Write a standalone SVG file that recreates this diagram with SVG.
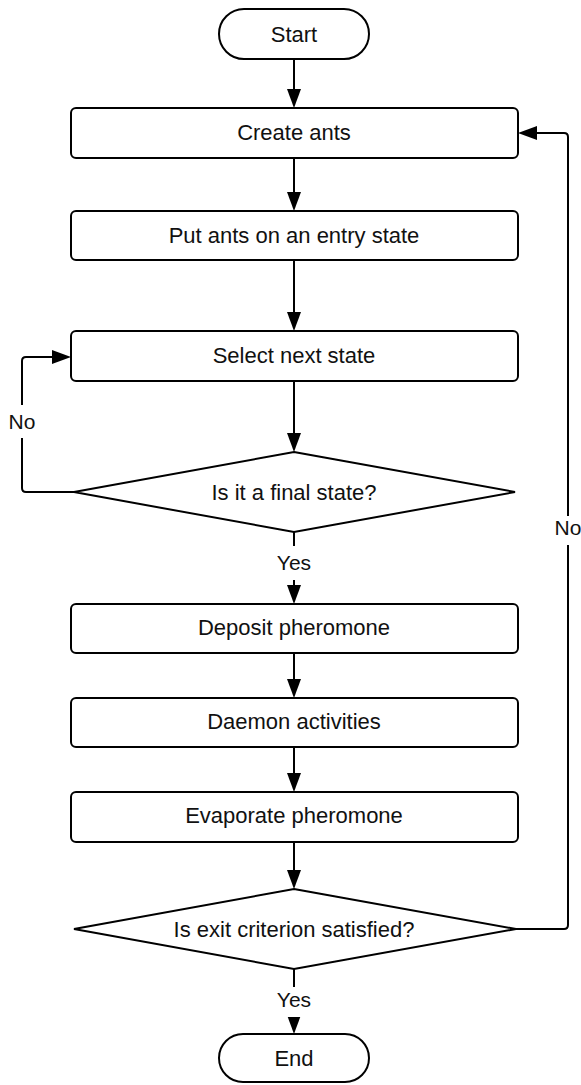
<svg xmlns="http://www.w3.org/2000/svg" width="581" height="1085" viewBox="0 0 581 1085">
<style>
.n{fill:#fff;stroke:#000;stroke-width:2}
.t{font-family:"Liberation Sans",Arial,sans-serif;font-size:22px;fill:#111;text-anchor:middle}
.l{font-family:"Liberation Sans",Arial,sans-serif;font-size:21px;fill:#111;text-anchor:middle}
.c{fill:none;stroke:#000;stroke-width:2;stroke-linejoin:round}
</style>
<defs>
<marker id="ah" markerUnits="userSpaceOnUse" markerWidth="22" markerHeight="16" refX="15" refY="7" orient="auto">
<path d="M0,0 L19,7 L0,14 z" fill="#000"/>
</marker>
</defs>
<rect width="581" height="1085" fill="#fff"/>
<g id="connectors">
<path class="c" d="M294,59 V104" marker-end="url(#ah)"/>
<path class="c" d="M294,158 V207" marker-end="url(#ah)"/>
<path class="c" d="M294,260 V327" marker-end="url(#ah)"/>
<path class="c" d="M294,381 V448" marker-end="url(#ah)"/>
<path class="c" d="M74,492 H26 Q22,492 22,488 V361 Q22,357 26,357 H67" marker-end="url(#ah)"/>
<path class="c" d="M294,532 V600" marker-end="url(#ah)"/>
<path class="c" d="M294,653 V694" marker-end="url(#ah)"/>
<path class="c" d="M294,747 V788" marker-end="url(#ah)"/>
<path class="c" d="M294,842 V885" marker-end="url(#ah)"/>
<path class="c" d="M516,929 H564 Q568,929 568,925 V137 Q568,133 564,133 H522" marker-end="url(#ah)"/>
<path class="c" d="M294,969 V1030" marker-end="url(#ah)"/>
<rect x="6" y="405" width="32" height="33" fill="#fff"/>
<text class="l" x="22" y="429">No</text>
<rect x="552" y="516" width="32" height="29" fill="#fff"/>
<text class="l" x="568" y="535">No</text>
<rect x="271" y="546" width="46" height="34" fill="#fff"/>
<text class="l" x="294" y="570">Yes</text>
<rect x="271" y="987" width="46" height="30" fill="#fff"/>
<text class="l" x="294" y="1007">Yes</text>
</g>
<g id="start"><rect class="n" x="219" y="9" width="150" height="50" rx="25"/><text class="t" x="294" y="42">Start</text></g>
<g id="create-ants"><rect class="n" x="71" y="108" width="447" height="50" rx="5"/><text class="t" x="294" y="140">Create ants</text></g>
<g id="put-ants"><rect class="n" x="71" y="211" width="447" height="49" rx="5"/><text class="t" x="294" y="243">Put ants on an entry state</text></g>
<g id="select-next"><rect class="n" x="71" y="331" width="447" height="50" rx="5"/><text class="t" x="294" y="363">Select next state</text></g>
<g id="final-state"><polygon class="n" points="294,452 515,492 294,532 74,492"/><text class="t" x="294" y="500">Is it a final state?</text></g>
<g id="deposit"><rect class="n" x="71" y="604" width="447" height="49" rx="5"/><text class="t" x="294" y="635">Deposit pheromone</text></g>
<g id="daemon"><rect class="n" x="71" y="698" width="447" height="49" rx="5"/><text class="t" x="294" y="729">Daemon activities</text></g>
<g id="evaporate"><rect class="n" x="71" y="792" width="447" height="50" rx="5"/><text class="t" x="294" y="823">Evaporate pheromone</text></g>
<g id="exit-criterion"><polygon class="n" points="294,889 516,929 294,969 74,929"/><text class="t" x="294" y="937">Is exit criterion satisfied?</text></g>
<g id="end"><rect class="n" x="219" y="1034" width="150" height="48" rx="24"/><text class="t" x="294" y="1066">End</text></g>
</svg>
